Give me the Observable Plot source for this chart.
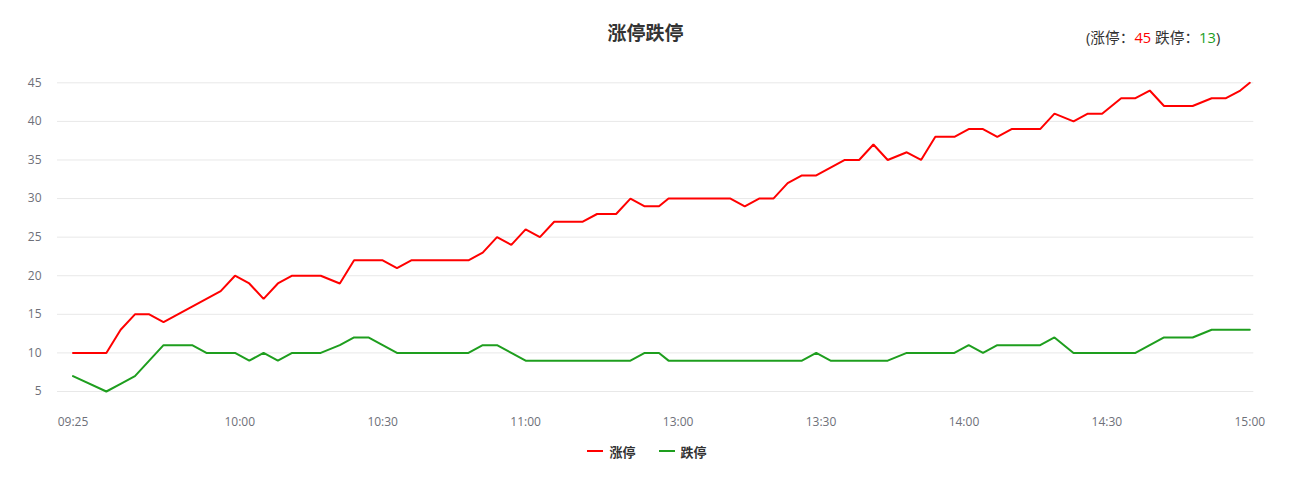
<!DOCTYPE html>
<html>
<head>
<meta charset="utf-8">
<script src="https://cdn.jsdelivr.net/npm/d3@7"></script>
<script src="https://cdn.jsdelivr.net/npm/@observablehq/plot@0.6"></script>
<style>
  html, body { margin: 0; padding: 0; background: #fff; }
  body { width: 1294px; height: 479px; overflow: hidden; font-family: "Noto Sans CJK SC", "Noto Sans", sans-serif; }
  #head { position: relative; height: 62px; }
  #title { position: absolute; left: 0; right: 0; top: 18px; padding-right: 3px; text-align: center; font-size: 19px; font-weight: bold; color: #333; line-height: 28px; }
  #summary { position: absolute; left: 1086px; top: 27px; font-size: 14.7px; color: #333; line-height: 20px; white-space: nowrap; font-family: "Open Sans", "Noto Sans CJK SC", sans-serif; }
  #legend { position: relative; height: 28px; display: flex; justify-content: center; align-items: center; gap: 23px; }
  .item { display: flex; align-items: center; font-size: 13px; font-weight: bold; color: #333; }
  .swatch { width: 16px; height: 2px; margin-right: 6px; }
  #chart svg { display: block; }
</style>
</head>
<body>
<div id="head">
  <div id="title"></div>
  <div id="summary"></div>
</div>
<div id="chart"></div>
<div id="legend"></div>
<script>
// ---- data ----
const titleText = "涨停跌停";
const seriesNames = ["涨停", "跌停"];
const seriesColors = ["#ff0000", "#1e9e1e"];

const times = [
  "09:25","09:32","09:35","09:38","09:41","09:44","09:47","09:50","09:53","09:56",
  "09:59","10:02","10:05","10:08","10:11","10:14","10:17","10:21","10:24","10:27",
  "10:30","10:33","10:36","10:39","10:42","10:45","10:48","10:51","10:54","10:57",
  "11:00","11:03","11:06","11:09","11:12","11:15","11:19","11:22","11:25","11:28",
  "11:30","13:02","13:05","13:08","13:11","13:14","13:17","13:20","13:23","13:26",
  "13:29","13:32","13:35","13:38","13:41","13:44","13:48","13:51","13:54","13:58",
  "14:01","14:04","14:07","14:10","14:13","14:16","14:19","14:23","14:26","14:29",
  "14:33","14:36","14:39","14:42","14:45","14:48","14:52","14:55","14:58","15:00"
];

const upCounts = [
  10,10,13,15,15,14,15,16,17,18,
  20,19,17,19,20,20,20,19,22,22,
  22,21,22,22,22,22,22,23,25,24,
  26,25,27,27,27,28,28,30,29,29,
  30,30,30,30,30,29,30,30,32,33,
  33,34,35,35,37,35,36,35,38,38,
  39,39,38,39,39,39,41,40,41,41,
  43,43,44,42,42,42,43,43,44,45
];

const downCounts = [
  7,5,6,7,9,11,11,11,10,10,
  10,9,10,9,10,10,10,11,12,12,
  11,10,10,10,10,10,10,11,11,10,
  9,9,9,9,9,9,9,9,10,10,
  9,9,9,9,9,9,9,9,9,9,
  10,9,9,9,9,9,10,10,10,10,
  11,10,11,11,11,11,12,10,10,10,
  10,10,11,12,12,12,13,13,13,13
];

const xTickLabels = ["09:25","10:00","10:30","11:00","13:00","13:30","14:00","14:30","15:00"];
const yTicks = [5,10,15,20,25,30,35,40,45];

// ---- trading-time axis: morning from 09:25, afternoon continues after the lunch break ----
const LUNCH_GAP = 2;
function toPos(t) {
  const [h, m] = t.split(":").map(Number);
  const mins = h * 60 + m;
  if (mins <= 11 * 60 + 30) return mins - (9 * 60 + 25);
  return (11 * 60 + 30 - (9 * 60 + 25)) + LUNCH_GAP + (mins - 13 * 60);
}
const endPos = toPos("15:00");

const rows = [];
times.forEach((t, i) => {
  rows.push({pos: toPos(t), value: upCounts[i], series: seriesNames[0]});
  rows.push({pos: toPos(t), value: downCounts[i], series: seriesNames[1]});
});
const labelByPos = new Map(xTickLabels.map(l => [toPos(l), l]));

// ---- header ----
document.getElementById("title").textContent = titleText;
const last = times.length - 1;
const summary = document.getElementById("summary");
summary.innerHTML = "";
const add = (txt, color) => { const s = document.createElement("span"); s.textContent = txt; if (color) s.style.color = color; summary.appendChild(s); };
add("(" + seriesNames[0] + "：");
add(String(upCounts[last]), seriesColors[0]);
add(" " + seriesNames[1] + "：");
add(String(downCounts[last]), seriesColors[1]);
add(")");

// ---- chart ----
const chart = Plot.plot({
  width: 1294,
  height: 375,
  marginTop: 20.3,
  marginBottom: 46,
  marginLeft: 57,
  marginRight: 40.7,
  style: {fontFamily: "'Open Sans', 'Noto Sans', sans-serif", fontSize: "12px", color: "#6E7079", background: "#fff"},
  x: {type: "linear", domain: [0, endPos], insetLeft: 15.5, insetRight: 4},
  y: {domain: [5, 45]},
  color: {domain: seriesNames, range: seriesColors},
  marks: [
    Plot.ruleY(yTicks, {stroke: "#e8e8e8", strokeWidth: 1}),
    Plot.axisY({ticks: yTicks, tickSize: 0, tickPadding: 16, label: null}),
    Plot.axisX({ticks: xTickLabels.map(toPos), tickFormat: d => labelByPos.get(d), tickSize: 0, tickPadding: 26, label: null}),
    Plot.line(rows, {x: "pos", y: "value", z: "series", stroke: "series", strokeWidth: 2, strokeLinejoin: "miter"})
  ]
});
document.getElementById("chart").appendChild(chart);

// ---- legend ----
const legend = document.getElementById("legend");
seriesNames.forEach((name, i) => {
  const item = document.createElement("div");
  item.className = "item";
  const sw = document.createElement("span");
  sw.className = "swatch";
  sw.style.background = seriesColors[i];
  const label = document.createElement("span");
  label.textContent = name;
  item.appendChild(sw);
  item.appendChild(label);
  legend.appendChild(item);
});
</script>
</body>
</html>
